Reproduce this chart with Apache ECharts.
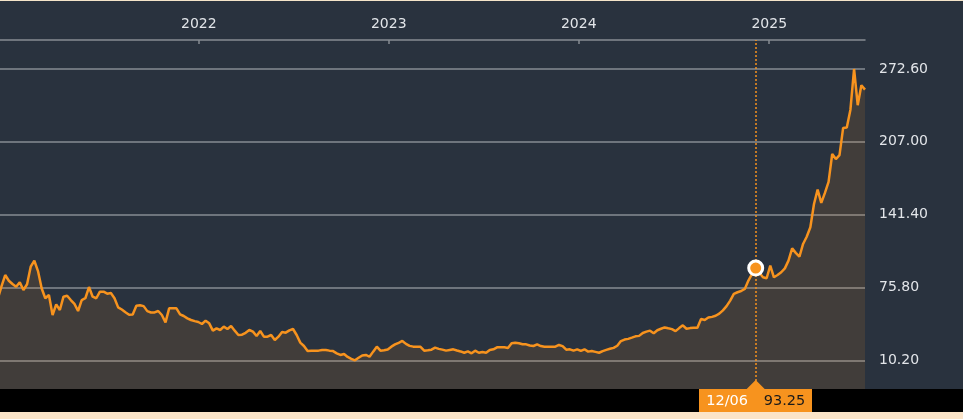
<!DOCTYPE html>
<html>
<head>
<meta charset="utf-8">
<script src="https://cdn.jsdelivr.net/npm/echarts@6/dist/echarts.min.js"></script>
<style>
html,body{margin:0;padding:0;background:#29323e;}
#chart{width:963px;height:419px;}
</style>
</head>
<body>
<div id="chart"></div>
<script>
// ---- data (weekly closes, Fridays, first week below) ----
const firstWeek = '2020-12-11';
const closesA = [66, 77, 87.0, 81.9, 78.9, 76.5, 80.5, 73.5, 78.7, 94.5, 99.9, 90.6, 75.1, 66.1, 69.0, 51.0, 60.6, 55.5, 67.5, 68.4,
  64.5, 61.0, 54.6, 64.5, 66.1, 76.2, 67.5, 66.1, 72.0, 72.0, 70.2, 70.8, 66.1, 57.9, 56.0, 53.5, 51.3, 51.5, 59.4, 59.8,
  59.0, 54.5, 53.3, 53.3, 54.6, 51.0, 44.4, 57.0, 57.0, 57.0, 51.6, 50.1, 48.0, 46.5, 45.5, 44.7, 42.9, 45.9, 43.5, 36.9];
const closesB = [39.0, 37.5, 40.5, 38.4, 41.1, 36.9, 33.0, 33.3, 35.0, 37.5, 36.0, 32.1, 36.6, 31.5, 31.5, 33.0, 28.5, 31.5, 35.7, 35.1,
  37.2, 38.4, 33.0, 26.1, 23.1, 18.6, 18.8, 18.9, 18.9, 19.5, 19.5, 18.9, 18.5, 16.5, 15.0, 15.9, 13.2, 11.5, 10.2, 12.5,
  14.5, 15.0, 13.4, 18.0, 22.5, 18.9, 19.2, 20.0, 22.5, 24.5, 26.0, 27.6, 25.0, 23.2, 22.5, 22.5, 22.3, 18.9, 19.3, 19.8];
const closesC = [21.6, 20.5, 19.8, 18.9, 19.5, 20.1, 19.0, 18.2, 17.0, 18.3, 16.5, 18.9, 17.0, 17.7, 17.0, 19.5, 20.1, 21.9, 21.9, 21.9,
  21.3, 25.5, 26.1, 25.6, 24.6, 24.6, 23.5, 23.1, 24.5, 23.0, 22.5, 22.5, 22.5, 22.5, 24.0, 23.0, 19.8, 20.1, 18.9, 20.1,
  18.6, 20.1, 18.0, 18.6, 17.8, 17.0, 18.5, 19.6, 20.6, 21.4, 23.3, 27.5, 28.9, 29.5, 30.6, 31.8, 32.2, 34.8, 36.0, 36.9];
const closesD = [34.5, 37.3, 38.6, 39.8, 39.0, 38.3, 36.5, 39.2, 41.7, 38.6, 39.2, 39.6, 39.5, 47.5, 46.5, 48.7, 49.3, 50.3, 52.2, 55.2,
  59.0, 64.0, 70.0, 71.5, 72.6, 74.5, 82.0, 88.0, 93.25, 89.0, 85.0, 84.1, 95.5, 85.0, 87.0, 89.5, 93.0, 100.0, 111.0, 107.0,
  103.5, 115.0, 121.5, 130.0, 151.0, 164.0, 152.0, 161.0, 171.0, 196.0, 191.5, 195.0, 219.5, 220.0, 236.0, 272.6, 240.0, 258.0, 254.0];
const yearTicks = ['2022-01-01', '2023-01-01', '2024-01-01', '2025-01-01'];
const priceTicks = [10.2, 75.8, 141.4, 207.0, 272.6];
const highlightDate = '2024-12-06';
const highlightValue = 93.25;
const axisStart = '2020-12-15';
const axisEnd = '2025-07-04';
const yMin = -15.65, yMax = 298.72;

// ---- build ----
const DAY = 86400000;
function toTime(s){ const p = s.split('-').map(Number); return Date.UTC(p[0], p[1] - 1, p[2]); }
const closes = closesA.concat(closesB, closesC, closesD);
const t0 = toTime(firstWeek);
const seriesData = closes.map((v, i) => [t0 + 7 * i * DAY, v]);
const tickTimes = yearTicks.map(toTime);
const hlTime = toTime(highlightDate);

const ORANGE = '#f7931e';
const GRID_COLOR = '#868c93';
const TEXT = '#e2e5e9';
const FONT = 'DejaVu Sans';
const G_TOP = 40, G_BOTTOM = 30, G_RIGHT = 98;
const H = 419 - G_TOP - G_BOTTOM;
const span = yMax - yMin;
const top1 = G_TOP + (yMax - priceTicks[priceTicks.length - 1]) / span * H;
const bottom1 = G_BOTTOM + (priceTicks[0] - yMin) / span * H;

const chart = echarts.init(document.getElementById('chart'), null, {renderer: 'canvas'});

chart.setOption({
  backgroundColor: '#29323e',
  animation: false,
  grid: [
    {left: 0, right: G_RIGHT, top: G_TOP, bottom: G_BOTTOM},
    {left: 0, right: G_RIGHT, top: top1, bottom: bottom1}
  ],
  xAxis: [
    {
      gridIndex: 0, type: 'value', position: 'top', min: toTime(axisStart), max: toTime(axisEnd),
      axisLine: {show: true, onZero: false, lineStyle: {color: GRID_COLOR, width: 1.5}},
      axisTick: {show: true, inside: true, length: 4, customValues: tickTimes, lineStyle: {color: GRID_COLOR, width: 1.5}},
      axisLabel: {customValues: tickTimes, color: TEXT, fontFamily: FONT, fontSize: 14, margin: 9,
        formatter: v => String(new Date(v).getUTCFullYear())},
      splitLine: {show: false}
    },
    {gridIndex: 1, type: 'value', show: false, min: 0, max: 1}
  ],
  yAxis: [
    {gridIndex: 0, type: 'value', min: yMin, max: yMax, show: false},
    {
      gridIndex: 1, type: 'value', position: 'right', min: 0, max: priceTicks.length - 1, interval: 1,
      axisLine: {show: false}, axisTick: {show: false},
      axisLabel: {color: TEXT, fontFamily: FONT, fontSize: 14, margin: 14,
        formatter: v => priceTicks[Math.round(v)].toFixed(2)},
      splitLine: {show: true, lineStyle: {color: GRID_COLOR, width: 1.5}}
    }
  ],
  series: [{
    type: 'line', xAxisIndex: 0, yAxisIndex: 0,
    data: seriesData, showSymbol: false, symbol: 'none', clip: true,
    lineStyle: {color: ORANGE, width: 2.5},
    areaStyle: {color: 'rgba(247,147,30,0.17)', origin: 'start'},
    z: 3,
    markLine: {
      silent: true, symbol: ['none', 'none'], animation: false,
      label: {show: false},
      lineStyle: {color: ORANGE, type: [2, 2], width: 1.5},
      data: [{xAxis: hlTime}]
    },
    markPoint: {
      silent: true, animation: false,
      symbol: 'circle', symbolSize: 14,
      itemStyle: {color: ORANGE, borderColor: '#ffffff', borderWidth: 3},
      label: {show: false},
      data: [{coord: [hlTime, highlightValue]}]
    }
  }]
});

// tooltip-like label at the bottom band
const pt = chart.convertToPixel({gridIndex: 0}, [hlTime, highlightValue]);
const px = pt[0];
const bandTop = 419 - G_BOTTOM;
const hp = highlightDate.split('-');
const dateLabel = hp[1] + '/' + hp[2];
chart.setOption({
  graphic: [
    {type: 'rect', silent: true, z: 0, shape: {x: 0, y: bandTop, width: 963, height: 23}, style: {fill: '#000000'}},
    {type: 'rect', silent: true, z: 0, shape: {x: 0, y: bandTop + 23, width: 963, height: 8}, style: {fill: '#fbe4c8'}},
    {type: 'rect', silent: true, z: 0, shape: {x: 0, y: 0, width: 963, height: 1}, style: {fill: '#f4e4c9'}},
    {type: 'rect', silent: true, z: 50, shape: {x: Math.round(px - 56.5), y: bandTop, width: 113, height: 23}, style: {fill: ORANGE}},
    {type: 'polygon', silent: true, z: 50, shape: {points: [[px - 9, bandTop], [px, bandTop - 9], [px + 9, bandTop]]}, style: {fill: ORANGE}},
    {type: 'text', silent: true, z: 51, x: px - 49.5, y: bandTop + 12,
      style: {text: dateLabel, fill: '#ffffff', font: '14.5px "DejaVu Sans"', verticalAlign: 'middle', align: 'left'}},
    {type: 'text', silent: true, z: 51, x: px + 8, y: bandTop + 12,
      style: {text: highlightValue.toFixed(2), fill: '#1a1a1a', font: '14.5px "DejaVu Sans"', verticalAlign: 'middle', align: 'left'}}
  ]
});
</script>
</body>
</html>
